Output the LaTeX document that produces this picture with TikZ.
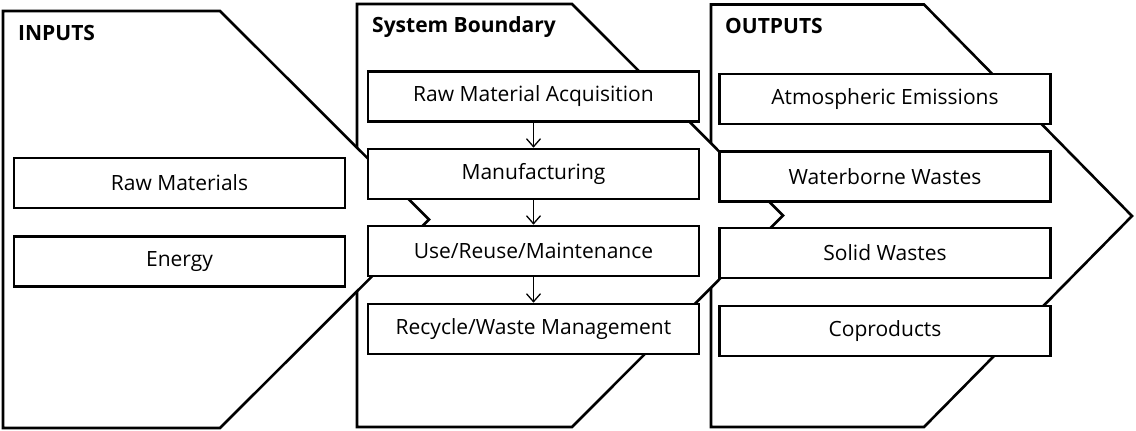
\documentclass[tikz,border=0pt]{standalone}
\usepackage{fontspec}
\setmainfont{Open Sans}
\usetikzlibrary{arrows.meta}
\begin{document}
\begin{tikzpicture}[x=1pt,y=-1pt,
  chev/.style={draw=black, fill=white, line width=2.6pt, line join=miter},
  box/.style={draw=black, fill=white, line width=2.6pt, minimum width=331pt, minimum height=50pt, inner sep=0pt, font=\fontsize{21}{24}\selectfont},
  ttl/.style={font=\bfseries\fontsize{21}{24}\selectfont, anchor=base west, inner sep=0pt},
  flow/.style={line width=1.3pt, -{Straight Barb[length=8pt,width=14pt]}}]
\useasboundingbox (0,0) rectangle (1136,431);
\draw[chev] (711,4.5) -- (924,4.5) -- (1132,216) -- (924,427) -- (711,427) -- cycle;
\draw[chev] (357,4) -- (572,4) -- (783,215.5) -- (572,427) -- (357,427) -- cycle;
\draw[chev] (3,11) -- (220,11) -- (429,219.5) -- (220,428) -- (3,428) -- cycle;
\node[ttl] (tin) at (18,40) {INPUTS};
\node[ttl] (tsys) at (372,32) {System Boundary};
\node[ttl] (tout) at (725,34) {OUTPUTS};
\node[box] (rawm) at (179.5,183) {Raw Materials};
\node[box] (energy) at (179.5,261.5) {Energy};
\node[box] (rma) at (533.5,96.5) {Raw Material Acquisition};
\node[box] (manu) at (533.5,174) {Manufacturing};
\node[box] (use) at (533.5,251) {Use/Reuse/Maintenance};
\node[box] (recy) at (533.5,329) {Recycle/Waste Management};
\node[box] (atmo) at (885,99) {Atmospheric Emissions};
\node[box] (water) at (885,176.5) {Waterborne Wastes};
\node[box] (solid) at (885,253) {Solid Wastes};
\node[box] (copro) at (885,331) {Coproducts};
\draw[flow] (rma.south) -- (manu.north);
\draw[flow] (manu.south) -- (use.north);
\draw[flow] (use.south) -- (recy.north);
\end{tikzpicture}
\end{document}
